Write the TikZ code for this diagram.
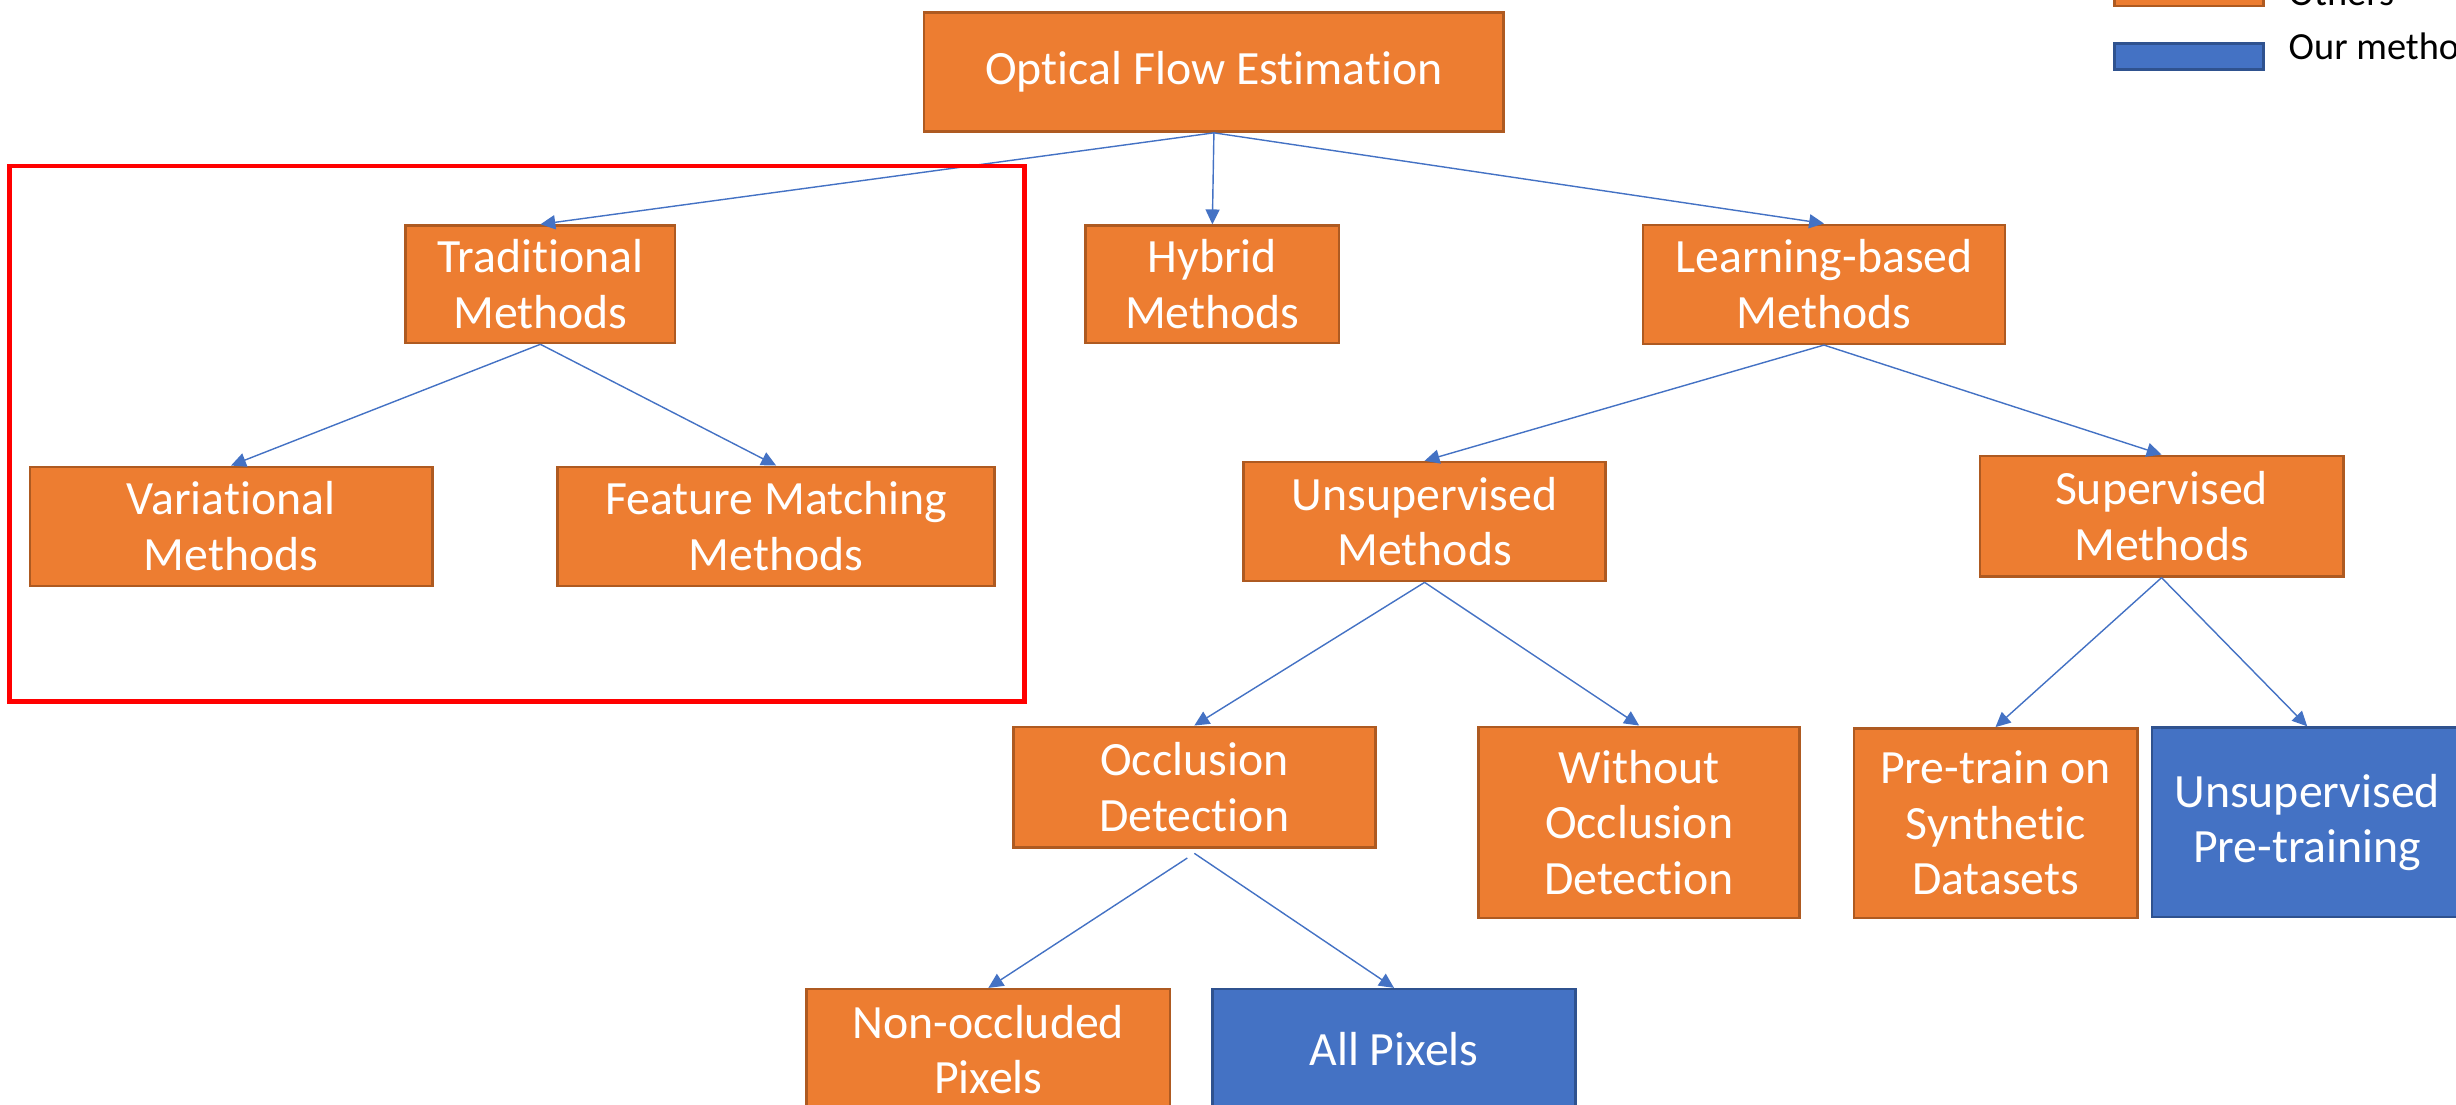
\documentclass[tikz,border=0pt]{standalone}
\usepackage{fontspec}
\setmainfont{Carlito}[Ligatures=NoCommon]
\usetikzlibrary{arrows.meta}

\definecolor{boxorange}{HTML}{ED7D31}
\definecolor{orangeedge}{HTML}{AE5A21}
\definecolor{boxblue}{HTML}{4472C4}
\definecolor{blueedge}{HTML}{2F528F}
\definecolor{linkblue}{HTML}{4472C4}
\definecolor{framered}{HTML}{FF0000}

\begin{document}
\begin{tikzpicture}[
  x=1pt, y=-1pt,
  box/.style={draw=orangeedge, fill=boxorange, line width=1.6pt, text=white,
    align=center, inner sep=0pt, font=\fontsize{30.5}{35.5}\selectfont},
  ours/.style={box, draw=blueedge, fill=boxblue},
  link/.style={draw=linkblue, line width=0.9pt, -{Triangle[length=9.5pt,width=9pt]}},
  legendtext/.style={anchor=base west, inner sep=0pt, text=black,
    font=\fontsize{24.5}{29}\selectfont}
]
\clip (0,0) rectangle (1568,705);

% --- tree nodes ---
\node[box, minimum width=370pt, minimum height=76pt] (ofe) at (775,46) {Optical Flow Estimation};

\node[box, minimum width=172pt, minimum height=75pt] (trad) at (345,181.5) {Traditional\\Methods};
\node[box, minimum width=162pt, minimum height=75pt] (hyb) at (774,181.5) {Hybrid\\Methods};
\node[box, minimum width=231pt, minimum height=76pt] (learn) at (1164.5,181.5) {Learning-based\\Methods};

\node[box, minimum width=257pt, minimum height=76pt] (var) at (147.5,336) {Variational\\Methods};
\node[box, minimum width=279pt, minimum height=76pt] (feat) at (495.5,336) {Feature Matching\\Methods};

\node[box, minimum width=231pt, minimum height=76pt] (unsup) at (909.5,333) {Unsupervised\\Methods};
\node[box, minimum width=232pt, minimum height=77pt] (sup) at (1380,329.5) {Supervised\\Methods};

\node[box, minimum width=231pt, minimum height=77pt] (occ) at (762.5,502.5) {Occlusion\\Detection};
\node[box, minimum width=205pt, minimum height=122pt] (without) at (1046.5,525) {Without\\Occlusion\\Detection};
\node[box, minimum width=181pt, minimum height=121pt] (pretrain) at (1274,525.5) {Pre-train on\\Synthetic\\Datasets};
\node[ours, minimum width=198pt, minimum height=121pt] (unsuppre) at (1473,525) {Unsupervised\\Pre-training};

\node[box, minimum width=232pt, minimum height=77pt] (nonocc) at (631,670) {Non-occluded\\Pixels};
\node[ours, minimum width=232pt, minimum height=77pt] (allpix) at (890,670) {All Pixels};

% --- connectors ---
\draw[link] (ofe.south) -- (trad.north);
\draw[link] (ofe.south) -- (hyb.north);
\draw[link] (ofe.south) -- (learn.north);

\draw[link] (trad.south) -- (var.north);
\draw[link] (trad.south) -- (feat.north);

\draw[link] (learn.south) -- (unsup.north);
\draw[link] (learn.south) -- (sup.north);

\draw[link] (unsup.south) -- (occ.north);
\draw[link] (unsup.south) -- (without.north);

\draw[link] (sup.south) -- (pretrain.north);
\draw[link] (sup.south) -- (unsuppre.north);

\coordinate (occleft) at ([xshift=-4.5pt,yshift=-6pt]occ.south);
\coordinate (occright) at ([yshift=-3pt]occ.south);
\draw[link] (occleft) -- (nonocc.north);
\draw[link] (occright) -- (allpix.north);

% --- highlight frame around the traditional branch ---
\draw[framered, line width=3pt] (6,106) rectangle (654,448);

% --- legend ---
\node[box, line width=1.5pt, minimum width=95pt, minimum height=16.6pt] (legothers) at (1397.5,-4.5) {};
\node[ours, line width=1.5pt, minimum width=95pt, minimum height=16.6pt] (legours) at (1397.5,36) {};
\node[legendtext] (legotherstext) at (1461,3.5) {Others};
\node[legendtext] (legourstext) at (1461,38.3) {Our method};
\end{tikzpicture}
\end{document}
